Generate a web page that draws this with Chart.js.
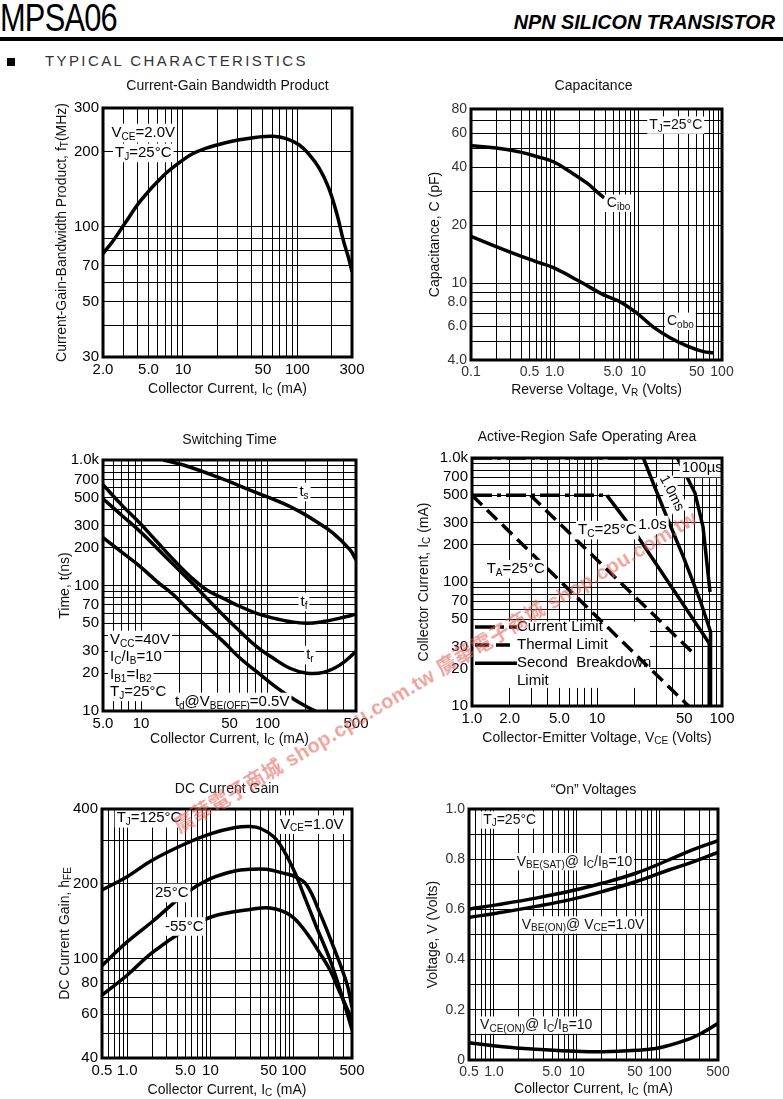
<!DOCTYPE html>
<html>
<head>
<meta charset="utf-8">
<title>MPSA06</title>
<script src="https://cdn.jsdelivr.net/npm/chart.js@4.4.1/dist/chart.umd.min.js"></script>
<style>
body { margin: 0; background: #fff; }
#page { position: relative; width: 783px; height: 1099px; overflow: hidden; font-family: "Liberation Sans", Arial, sans-serif; }
#page canvas { position: absolute; }
#part { position: absolute; left: 0; top: -2px; font-size: 39px; line-height: 39px; letter-spacing: -1px; transform: scaleX(0.79); transform-origin: 0 0; }
#kind { position: absolute; right: 8px; top: 12px; font-size: 19.8px; line-height: 20px; font-weight: bold; font-style: italic; }
#rule { position: absolute; left: 0; top: 37px; width: 783px; height: 4px; background: #000; }
#bullet { position: absolute; left: 7px; top: 58px; width: 8px; height: 8px; background: #000; }
#section { position: absolute; left: 45px; top: 53px; font-size: 15px; line-height: 15px; letter-spacing: 2.4px; color: #333; }
#wm { position: absolute; left: 176px; top: 816px; font: bold 20px/24px "Liberation Sans", "Noto Sans CJK TC", sans-serif; color: rgba(222, 100, 90, 0.6); transform: rotate(-31deg); transform-origin: 0 50%; white-space: nowrap; letter-spacing: 0.5px; pointer-events: none; }
</style>
</head>
<body>
<div id="page">
  <div id="part">MPSA06</div>
  <div id="kind">NPN SILICON TRANSISTOR</div>
  <div id="rule"></div>
  <div id="bullet"></div>
  <div id="section">TYPICAL CHARACTERISTICS</div>
  <canvas id="cFt"></canvas>
  <canvas id="cCap"></canvas>
  <canvas id="cSw"></canvas>
  <canvas id="cSoa"></canvas>
  <canvas id="cHfe"></canvas>
  <canvas id="cOn"></canvas>
  <div id="wm">廣華電子商城 shop.cpu.com.tw 廣華電子商城 shop.cpu.com.tw</div>
</div>
<script>
// --- Daten: Current-Gain Bandwidth Product ---
const ftIc = [2, 2.5, 3.1, 4.3, 6.7, 9.6, 12, 16, 23, 32, 44, 61, 80, 104, 127, 155, 188, 222, 254, 280, 300];
const ftMHz = [78, 89, 103, 128, 160, 183, 196, 207, 217, 224, 229, 231, 226, 213, 195, 172, 143, 112, 87, 75, 66];
const ftXLabels = ['2.0', '5.0', '10', '50', '100', '300'];
const ftYLabels = ['30', '50', '70', '100', '200', '300'];

// --- Daten: Capacitance ---
const cibVr = [0.1, 0.2, 0.39, 0.61, 0.98, 1.55, 2.44, 3.06, 3.9];
const cibPf = [51.6, 50.2, 47.8, 45.4, 42.5, 37.7, 33, 30.3, 27.7];
const cobVr = [0.1, 0.25, 0.61, 0.98, 2.0, 3.85, 6.1, 9.6, 15.3, 24.2, 38, 60, 79];
const cobPf = [17.5, 14.9, 12.9, 12.0, 10.2, 8.7, 8.0, 7.0, 5.9, 5.2, 4.74, 4.42, 4.35];
const capXLabels = ['0.1', '0.5', '1.0', '5.0', '10', '50', '100'];
const capYLabels = ['4.0', '6.0', '8.0', '10', '20', '40', '60', '80'];

// --- Daten: Switching Time ---
const tsIc = [15, 21.6, 39.6, 72.6, 133, 180, 244, 331, 449, 500];
const tsNs = [1000, 912, 736, 576, 452, 388, 322, 260, 192, 160];
const swIc = [5, 7.2, 9.8, 13.3, 18.1, 24.5, 33.1, 44.7, 60.7, 82, 111, 150, 204, 276, 374, 500];
const tfNs = [635, 427, 313, 224, 160, 118, 92, 79, 68, 60, 55, 51.6, 50, 51.6, 55, 59];
const trNs = [491, 355, 270, 199, 146, 108, 79, 58, 43, 32.6, 26.3, 21.9, 20, 20.3, 23.3, 29.7];
const tdIc = [5, 7.2, 9.8, 13.3, 18.1, 24.5, 33.1, 44.7, 60.7, 82, 111, 150, 204, 240];
const tdNs = [241, 181, 142, 108, 84, 62, 47, 35.7, 26.3, 20.6, 16.1, 13, 10.8, 10];
const swXLabels = ['5.0', '10', '50', '100', '500'];
const swYLabels = ['10', '20', '30', '50', '70', '100', '200', '300', '500', '700', '1.0k'];

// --- Daten: Safe Operating Area ---
const curHiV = [1, 23.5], curHiI = [1000, 1000];
const curLoV = [1, 12], curLoI = [500, 500];
const thTaV = [1, 54], thTaI = [500, 10];
const thTcV = [2.94, 59], thTcI = [500, 26.6];
const sb1sV = [12, 20.5, 79, 79], sb1sI = [500, 245, 32, 10];
const sb1msV = [23.5, 28.2, 36.1, 49, 66.7, 81, 81], sb1msI = [1000, 625, 336, 160, 71.6, 39.7, 10];
const sb100usV = [44, 60.8, 70.5, 80.2], sb100usI = [1000, 522, 278, 83];
const soaXLabels = ['1.0', '2.0', '5.0', '10', '50', '100'];
const soaYLabels = ['10', '20', '30', '50', '70', '100', '200', '300', '500', '700', '1.0k'];

// --- Daten: DC Current Gain ---
const h125Ic = [0.5, 1, 2, 5, 10, 20, 30, 40, 57, 75, 104, 130, 188, 273, 360, 500];
const h125 = [189, 214, 249, 290, 318, 337, 340, 334, 310, 274, 221, 183, 134, 99, 75, 52];
const h25Ic = [0.5, 1, 2, 5, 10, 20, 30, 47, 75, 104, 143, 207, 299, 432, 500];
const h25 = [94, 117, 141, 183, 210, 226, 229, 229, 221, 214, 198, 152, 112, 80, 64];
const hM55Ic = [0.5, 1, 2, 5, 10, 20, 30, 52, 90, 143, 207, 273, 360, 500];
const hM55 = [71.5, 86, 106, 131, 147, 155, 158, 160, 150, 127, 105, 90, 73, 57];
const hfeXLabels = ['0.5', '1.0', '5.0', '10', '50', '100', '500'];
const hfeYLabels = ['40', '60', '80', '100', '200', '400'];

// --- Daten: "On" Voltages ---
const onIc = [0.5, 1.07, 3.2, 8.1, 20.6, 52, 130, 250, 500];
const vbeSat = [0.601, 0.618, 0.645, 0.672, 0.705, 0.745, 0.798, 0.838, 0.874];
const vbeOn = [0.568, 0.585, 0.612, 0.638, 0.672, 0.711, 0.758, 0.789, 0.827];
const vceIc = [0.5, 1.28, 3.2, 8.1, 20.6, 52, 99, 209, 330, 500];
const vceOn = [0.069, 0.053, 0.043, 0.036, 0.033, 0.039, 0.049, 0.080, 0.110, 0.146];
const onXLabels = ['0.5', '1.0', '5.0', '10', '50', '100', '500'];
const onYLabels = ['0', '0.2', '0.4', '0.6', '0.8', '1.0'];
const onYGrid = [0, 0.1, 0.2, 0.3, 0.4, 0.5, 0.6, 0.7, 0.8, 0.9, 1.0];

const FONT = '"Liberation Sans", Arial, sans-serif';
Chart.defaults.font.family = FONT;
Chart.defaults.color = '#000';

// --- Hilfsfunktionen ---
function logGrid(min, max) {
    const out = [];
    for (let e = Math.floor(Math.log10(min)); Math.pow(10, e) <= max; e++) {
        for (let m = 1; m <= 9; m++) {
            const v = +(m * Math.pow(10, e)).toPrecision(6);
            if (v >= min * 0.9999 && v <= max * 1.0001) out.push(v);
        }
    }
    return out;
}

function labelFor(labels, v) {
    const hit = labels.find(t => Math.abs(Number(t.replace('k', 'e3')) - v) <= Math.abs(v) * 1e-6 + 1e-9);
    return hit === undefined ? '' : hit;
}

function pts(xs, ys) {
    return xs.map((x, i) => ({ x: x, y: ys[i] }));
}

function axis(type, min, max, grid, labels, size, font) {
    return {
        type: type, min: min, max: max,
        afterBuildTicks: s => { s.ticks = grid.map(v => ({ value: v })); },
        afterFit: s => { if (s.isHorizontal()) s.height = size; else s.width = size; },
        ticks: {
            autoSkip: false, maxRotation: 0, minRotation: 0, padding: 4,
            font: font, color: font.color || '#000',
            callback: v => labelFor(labels, v)
        },
        grid: { color: '#000', lineWidth: 1, drawTicks: false },
        border: { display: false }
    };
}

function segments(text) {
    const out = [];
    const re = /_\{([^}]*)\}/g;
    let last = 0, m;
    while ((m = re.exec(text))) {
        if (m.index > last) out.push([text.slice(last, m.index), false]);
        out.push([m[1], true]);
        last = re.lastIndex;
    }
    if (last < text.length) out.push([text.slice(last), false]);
    return out;
}

function drawRich(ctx, text, x, y, o) {
    const size = o.size || 15, sub = Math.round(size * 0.68);
    const segs = segments(text);
    let w = 0;
    segs.forEach(([t, s]) => { ctx.font = (s ? sub : size) + 'px ' + FONT; w += ctx.measureText(t).width; });
    ctx.save();
    ctx.translate(x, y);
    if (o.angle) ctx.rotate(o.angle * Math.PI / 180);
    let x0 = o.align === 'center' ? -w / 2 : (o.align === 'right' ? -w : 0);
    if (o.bg) {
        ctx.fillStyle = '#fff';
        ctx.fillRect(x0 - 2, -size * 0.62, w + 4, size * 1.24);
    }
    ctx.fillStyle = o.color || '#000';
    ctx.textBaseline = 'middle';
    ctx.textAlign = 'left';
    segs.forEach(([t, s]) => {
        ctx.font = (s ? sub : size) + 'px ' + FONT;
        ctx.fillText(t, x0, s ? size * 0.26 : 0);
        x0 += ctx.measureText(t).width;
    });
    ctx.restore();
}

// --- Plugin: Rahmen, Titel, Beschriftungen ---
function sheet(spec) {
    return {
        id: 'sheet_' + spec.id,
        beforeDatasetsDraw(chart) {
            const ctx = chart.ctx, xs = chart.scales.x, ys = chart.scales.y;
            (spec.blanks || []).forEach(b => {
                const x1 = xs.getPixelForValue(b[0]), y1 = ys.getPixelForValue(b[1]);
                const x2 = xs.getPixelForValue(b[2]), y2 = ys.getPixelForValue(b[3]);
                ctx.fillStyle = '#fff';
                ctx.fillRect(x1, y1, x2 - x1, y2 - y1);
            });
        },
        afterDatasetsDraw(chart) {
            const ctx = chart.ctx, a = chart.chartArea, xs = chart.scales.x, ys = chart.scales.y;
            (spec.keys || []).forEach(k => {
                ctx.save();
                ctx.strokeStyle = '#000';
                ctx.lineWidth = 3.5;
                ctx.setLineDash(k.dash || []);
                ctx.beginPath();
                ctx.moveTo(xs.getPixelForValue(k.x1), ys.getPixelForValue(k.y));
                ctx.lineTo(xs.getPixelForValue(k.x2), ys.getPixelForValue(k.y));
                ctx.stroke();
                ctx.restore();
            });
            (spec.notes || []).forEach(n => {
                drawRich(ctx, n.t, xs.getPixelForValue(n.x), ys.getPixelForValue(n.y),
                    { size: n.size || spec.noteSize, align: n.align || 'left', bg: n.bg !== false, angle: n.angle, color: spec.noteColor });
            });
            ctx.save();
            ctx.strokeStyle = '#000';
            ctx.lineWidth = 3;
            ctx.strokeRect(a.left, a.top, a.right - a.left, a.bottom - a.top);
            ctx.restore();
            const cx = (a.left + a.right) / 2, cy = (a.top + a.bottom) / 2;
            drawRich(ctx, spec.title, cx + (spec.titleDx || 0), a.top + spec.titleDy, { size: 14, align: 'center', color: '#111' });
            drawRich(ctx, spec.xTitle, cx, a.bottom + spec.xTitleDy, { size: 14, align: 'center', color: '#111' });
            drawRich(ctx, spec.yTitle, a.left - spec.yTitleDx, cy, { size: 14, align: 'center', angle: -90, color: '#111' });
        }
    };
}

function line(xs, ys, extra) {
    return Object.assign({
        data: pts(xs, ys),
        borderColor: '#000',
        borderWidth: 3.5,
        pointRadius: 0,
        fill: false,
        tension: 0.4
    }, extra || {});
}

function makeChart(spec) {
    const cv = document.getElementById(spec.id);
    const [bl, bt, bw, bh] = spec.box;
    const [pl, pt, pr, pb] = spec.plot;
    cv.width = bw;
    cv.height = bh;
    cv.style.left = bl + 'px';
    cv.style.top = bt + 'px';
    const xAxis = spec.xAxis(bt + bh - pb);
    const yAxis = spec.yAxis(pl - bl);
    return new Chart(cv, {
        type: 'line',
        data: { datasets: spec.datasets },
        options: {
            responsive: false,
            animation: false,
            devicePixelRatio: 1,
            layout: { padding: { top: pt - bt, right: bl + bw - pr, bottom: 0, left: 0 } },
            plugins: { legend: { display: false }, tooltip: { enabled: false }, title: { display: false } },
            scales: { x: xAxis, y: yAxis }
        },
        plugins: [sheet(spec)]
    });
}

const bold15 = { size: 15, family: FONT };
const thin14 = { size: 14, family: FONT, color: '#333' };
const CUR = [20, 5, 4, 5];
const THERM = [14, 7];
const STRAIGHT = { tension: 0 };

// --- Diagramme ---
makeChart({
    id: 'cFt', box: [0, 70, 390, 340], plot: [103, 108, 352, 357],
    title: 'Current-Gain Bandwidth Product', titleDy: -22,
    xTitle: 'Collector Current, I_{C} (mA)', xTitleDy: 32,
    yTitle: 'Current-Gain-Bandwidth Product, f_{T}(MHz)', yTitleDx: 41,
    noteSize: 15,
    xAxis: h => axis('logarithmic', 2, 300, logGrid(2, 300), ftXLabels, h, bold15),
    yAxis: w => axis('logarithmic', 30, 300, logGrid(30, 300), ftYLabels, w, bold15),
    datasets: [line(ftIc, ftMHz)],
    notes: [
        { x: 4.5, y: 238, t: 'V_{CE}=2.0V', align: 'center' },
        { x: 4.5, y: 198, t: 'T_{J}=25°C', align: 'center' }
    ]
});

makeChart({
    id: 'cCap', box: [392, 70, 391, 340], plot: [471, 109, 722, 360],
    title: 'Capacitance', titleDy: -23, titleDx: -3,
    xTitle: 'Reverse Voltage, V_{R} (Volts)', xTitleDy: 30,
    yTitle: 'Capacitance, C (pF)', yTitleDx: 36,
    noteSize: 14, noteColor: '#111',
    xAxis: h => axis('logarithmic', 0.1, 100, logGrid(0.1, 100), capXLabels, h, thin14),
    yAxis: w => axis('logarithmic', 4, 80, logGrid(4, 80), capYLabels, w, thin14),
    datasets: [line(cibVr, cibPf), line(cobVr, cobPf)],
    notes: [
        { x: 28, y: 66, t: 'T_{J}=25°C', align: 'center' },
        { x: 4.2, y: 26, t: 'C_{ibo}' },
        { x: 22, y: 6.35, t: 'C_{obo}' }
    ]
});

makeChart({
    id: 'cSw', box: [0, 415, 390, 345], plot: [103, 460, 356, 711],
    title: 'Switching Time', titleDy: -20,
    xTitle: 'Collector Current, I_{C} (mA)', xTitleDy: 28,
    yTitle: 'Time, t(ns)', yTitleDx: 38,
    noteSize: 15,
    xAxis: h => axis('logarithmic', 5, 500, logGrid(5, 500), swXLabels, h, bold15),
    yAxis: w => axis('logarithmic', 10, 1000, logGrid(10, 1000), swYLabels, w, bold15),
    datasets: [line(tsIc, tsNs), line(swIc, tfNs), line(swIc, trNs), line(tdIc, tdNs)],
    notes: [
        { x: 194, y: 556, t: 't_{s}', align: 'center' },
        { x: 194, y: 74, t: 't_{f}', align: 'center' },
        { x: 216, y: 27.9, t: 't_{r}', align: 'center' },
        { x: 5.68, y: 36.8, t: 'V_{CC}=40V' },
        { x: 5.68, y: 26.9, t: 'I_{C}/I_{B}=10' },
        { x: 5.68, y: 19.4, t: 'I_{B1}=I_{B2}' },
        { x: 5.68, y: 14.2, t: 'T_{J}=25°C' },
        { x: 18.5, y: 11.8, t: 't_{d}@V_{BE(OFF)}=0.5V' }
    ]
});

makeChart({
    id: 'cSoa', box: [392, 415, 391, 345], plot: [472, 458, 722, 706],
    title: 'Active-Region Safe Operating Area', titleDy: -21, titleDx: -10,
    xTitle: 'Collector-Emitter Voltage, V_{CE} (Volts)', xTitleDy: 32,
    yTitle: 'Collector Current, I_{C} (mA)', yTitleDx: 48,
    noteSize: 15,
    xAxis: h => axis('logarithmic', 1, 100, logGrid(1, 100), soaXLabels, h, bold15),
    yAxis: w => axis('logarithmic', 10, 1000, logGrid(10, 1000), soaYLabels, w, bold15),
    blanks: [[1, 48, 26.5, 14]],
    datasets: [
        line(curHiV, curHiI, Object.assign({ borderDash: CUR }, STRAIGHT)),
        line(curLoV, curLoI, Object.assign({ borderDash: CUR }, STRAIGHT)),
        line(thTaV, thTaI, Object.assign({ borderDash: THERM }, STRAIGHT)),
        line(thTcV, thTcI, Object.assign({ borderDash: THERM }, STRAIGHT)),
        line(sb1sV, sb1sI, STRAIGHT),
        line(sb1msV, sb1msI, STRAIGHT),
        line(sb100usV, sb100usI, STRAIGHT)
    ],
    keys: [
        { x1: 1.057, x2: 2.29, y: 43.4, dash: CUR },
        { x1: 1.057, x2: 2.29, y: 31.0, dash: THERM },
        { x1: 1.057, x2: 2.29, y: 22.1 }
    ],
    notes: [
        { x: 47.6, y: 831, t: '100µs' },
        { x: 39.6, y: 519, t: '1.0ms', align: 'center', angle: 63, size: 14 },
        { x: 7.05, y: 262, t: 'T_{C}=25°C' },
        { x: 21.4, y: 288, t: '1.0s' },
        { x: 1.31, y: 127, t: 'T_{A}=25°C' },
        { x: 2.29, y: 43.4, t: 'Current Limit', bg: false },
        { x: 2.29, y: 31.0, t: 'Thermal Limit', bg: false },
        { x: 2.29, y: 22.1, t: 'Second  Breakdown', bg: false },
        { x: 2.29, y: 15.9, t: 'Limit', bg: false }
    ]
});

makeChart({
    id: 'cHfe', box: [0, 765, 390, 334], plot: [102, 809, 352, 1058],
    title: 'DC Current Gain', titleDy: -20,
    xTitle: 'Collector Current, I_{C} (mA)', xTitleDy: 32,
    yTitle: 'DC Current Gain, h_{FE}', yTitleDx: 37,
    noteSize: 15,
    xAxis: h => axis('logarithmic', 0.5, 500, logGrid(0.5, 500), hfeXLabels, h, bold15),
    yAxis: w => axis('logarithmic', 40, 400, logGrid(40, 400), hfeYLabels, w, bold15),
    datasets: [line(h125Ic, h125), line(h25Ic, h25), line(hM55Ic, hM55)],
    notes: [
        { x: 0.75, y: 367, t: 'T_{J}=125°C' },
        { x: 68.4, y: 346, t: 'V_{CE}=1.0V' },
        { x: 2.16, y: 184, t: '25°C' },
        { x: 2.85, y: 135, t: '-55°C' }
    ]
});

makeChart({
    id: 'cOn', box: [392, 765, 391, 334], plot: [469, 809, 718, 1060],
    title: '“On” Voltages', titleDy: -19,
    xTitle: 'Collector Current, I_{C} (mA)', xTitleDy: 29,
    yTitle: 'Voltage, V (Volts)', yTitleDx: 36,
    noteSize: 14, noteColor: '#111',
    xAxis: h => axis('logarithmic', 0.5, 500, logGrid(0.5, 500), onXLabels, h, thin14),
    yAxis: w => axis('linear', 0, 1, onYGrid, onYLabels, w, thin14),
    datasets: [line(onIc, vbeSat), line(onIc, vbeOn), line(vceIc, vceOn)],
    notes: [
        { x: 0.74, y: 0.956, t: 'T_{J}=25°C' },
        { x: 1.88, y: 0.79, t: 'V_{BE(SAT)}@ I_{C}/I_{B}=10' },
        { x: 2.16, y: 0.538, t: 'V_{BE(ON)}@ V_{CE}=1.0V' },
        { x: 0.68, y: 0.139, t: 'V_{CE(ON)}@ I_{C}/I_{B}=10' }
    ]
});
</script>
</body>
</html>
